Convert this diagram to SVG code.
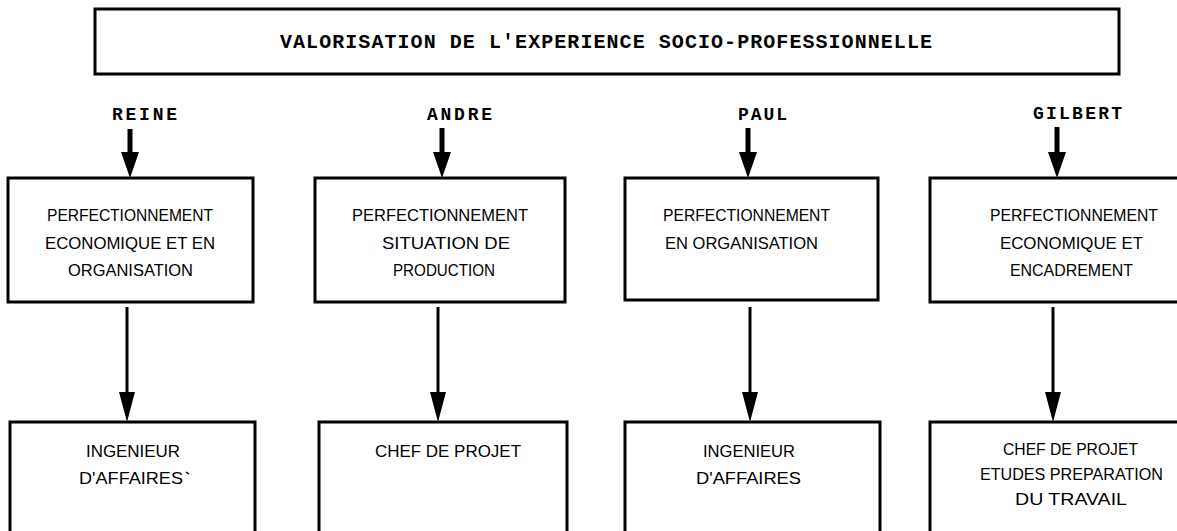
<svg xmlns="http://www.w3.org/2000/svg" width="1177" height="531" viewBox="0 0 1177 531">
<style>
.box{fill:#fff;stroke:#000;stroke-width:3}
.title{font-family:"Liberation Mono",monospace;font-weight:bold;font-size:20px;fill:#000}
.lbl{font-family:"Liberation Mono",monospace;font-weight:bold;font-size:18px;fill:#000}
.t{font-family:"Liberation Sans",Arial,sans-serif;font-size:16.5px;fill:#000}
.shaftA{stroke:#000;stroke-width:5;fill:none}
.shaftB{stroke:#000;stroke-width:3;fill:none}
</style>
<defs>
<marker id="headA" markerUnits="userSpaceOnUse" viewBox="0 0 26 18" markerWidth="26" markerHeight="18" refX="14" refY="9" orient="auto"><path d="M0,0 L26,9 L0,18 z" fill="#000"/></marker>
<marker id="headB" markerUnits="userSpaceOnUse" viewBox="0 0 30 16" markerWidth="30" markerHeight="16" refX="18" refY="8" orient="auto"><path d="M0,0 L30,8 L0,16 z" fill="#000"/></marker>
</defs>
<rect width="1177" height="531" fill="#fff"/>

<g id="title">
<rect class="box" x="95" y="9" width="1024" height="65"/>
<text class="title" x="280" y="48" textLength="652" lengthAdjust="spacing">VALORISATION DE L'EXPERIENCE SOCIO-PROFESSIONNELLE</text>
</g>

<g id="label-reine"><text class="lbl" x="112" y="120" textLength="65" lengthAdjust="spacing">REINE</text></g>
<g id="label-andre"><text class="lbl" x="427" y="120" textLength="65" lengthAdjust="spacing">ANDRE</text></g>
<g id="label-paul"><text class="lbl" x="738" y="120" textLength="49" lengthAdjust="spacing">PAUL</text></g>
<g id="label-gilbert"><text class="lbl" x="1033" y="119" textLength="89" lengthAdjust="spacing">GILBERT</text></g>

<g id="connectors">
<line class="shaftA" x1="130" y1="129" x2="130" y2="166" marker-end="url(#headA)"/>
<line class="shaftA" x1="442" y1="128" x2="442" y2="166" marker-end="url(#headA)"/>
<line class="shaftA" x1="748" y1="128" x2="748" y2="166" marker-end="url(#headA)"/>
<line class="shaftA" x1="1057" y1="127" x2="1057" y2="166" marker-end="url(#headA)"/>
<line class="shaftB" x1="127" y1="307" x2="127" y2="410" marker-end="url(#headB)"/>
<line class="shaftB" x1="438" y1="307" x2="438" y2="410" marker-end="url(#headB)"/>
<line class="shaftB" x1="750" y1="307" x2="750" y2="410" marker-end="url(#headB)"/>
<line class="shaftB" x1="1053" y1="307" x2="1053" y2="410" marker-end="url(#headB)"/>
</g>

<g id="formation-reine">
<rect class="box" x="8" y="178" width="245" height="124"/>
<text class="t" x="47" y="221" textLength="166" lengthAdjust="spacingAndGlyphs">PERFECTIONNEMENT</text>
<text class="t" x="45" y="249" textLength="170" lengthAdjust="spacingAndGlyphs">ECONOMIQUE ET EN</text>
<text class="t" x="68" y="276" textLength="125" lengthAdjust="spacingAndGlyphs">ORGANISATION</text>
</g>
<g id="formation-andre">
<rect class="box" x="315" y="178" width="250" height="124"/>
<text class="t" x="352" y="221" textLength="176" lengthAdjust="spacingAndGlyphs">PERFECTIONNEMENT</text>
<text class="t" x="382" y="249" textLength="128" lengthAdjust="spacingAndGlyphs">SITUATION DE</text>
<text class="t" x="393" y="276" textLength="102" lengthAdjust="spacingAndGlyphs">PRODUCTION</text>
</g>
<g id="formation-paul">
<rect class="box" x="625" y="178" width="253" height="122"/>
<text class="t" x="663" y="221" textLength="167" lengthAdjust="spacingAndGlyphs">PERFECTIONNEMENT</text>
<text class="t" x="665" y="249" textLength="153" lengthAdjust="spacingAndGlyphs">EN ORGANISATION</text>
</g>
<g id="formation-gilbert">
<rect class="box" x="930" y="178" width="262" height="124"/>
<text class="t" x="990" y="221" textLength="168" lengthAdjust="spacingAndGlyphs">PERFECTIONNEMENT</text>
<text class="t" x="1000" y="249" textLength="143" lengthAdjust="spacingAndGlyphs">ECONOMIQUE ET</text>
<text class="t" x="1010" y="276" textLength="123" lengthAdjust="spacingAndGlyphs">ENCADREMENT</text>
</g>

<g id="poste-reine">
<rect class="box" x="10" y="422" width="245" height="120"/>
<text class="t" x="86" y="457" textLength="94" lengthAdjust="spacingAndGlyphs">INGENIEUR</text>
<text class="t" x="79" y="484" textLength="104" lengthAdjust="spacingAndGlyphs">D'AFFAIRES</text>
<line x1="186" y1="472" x2="189" y2="474" stroke="#000" stroke-width="1.5"/>
</g>
<g id="poste-andre">
<rect class="box" x="319" y="422" width="248" height="120"/>
<text class="t" x="375" y="457" textLength="146" lengthAdjust="spacingAndGlyphs">CHEF DE PROJET</text>
</g>
<g id="poste-paul">
<rect class="box" x="625" y="422" width="255" height="120"/>
<text class="t" x="703" y="457" textLength="92" lengthAdjust="spacingAndGlyphs">INGENIEUR</text>
<text class="t" x="696" y="484" textLength="105" lengthAdjust="spacingAndGlyphs">D'AFFAIRES</text>
</g>
<g id="poste-gilbert">
<rect class="box" x="930" y="422" width="262" height="120"/>
<text class="t" x="1003" y="455" textLength="135" lengthAdjust="spacingAndGlyphs">CHEF DE PROJET</text>
<text class="t" x="980" y="480" textLength="183" lengthAdjust="spacingAndGlyphs">ETUDES PREPARATION</text>
<text class="t" x="1015" y="505" textLength="112" lengthAdjust="spacingAndGlyphs">DU TRAVAIL</text>
</g>
</svg>
